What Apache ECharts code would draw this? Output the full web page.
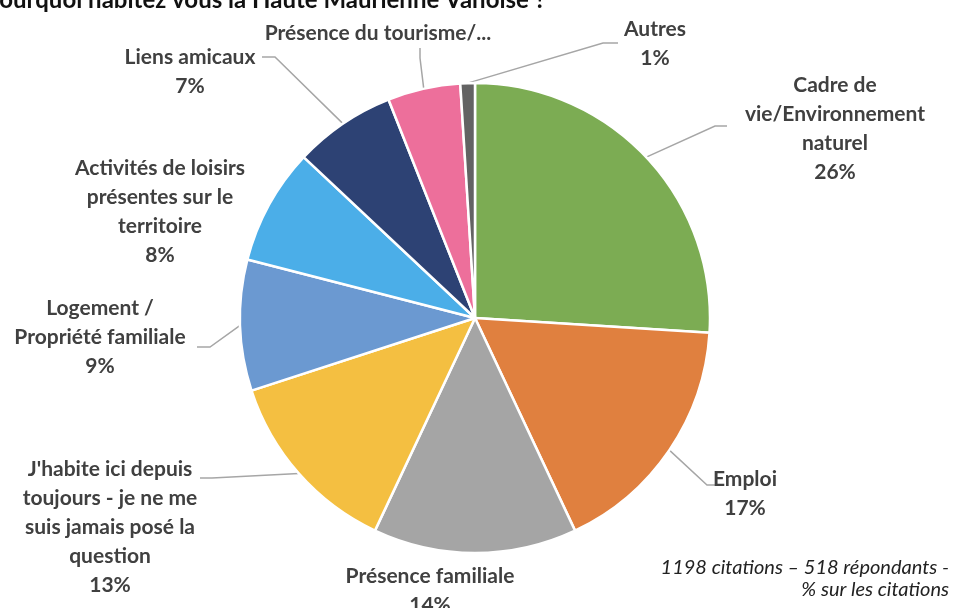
<!DOCTYPE html>
<html>
<head>
    <meta charset="utf-8">
    <title>Pourquoi habitez vous la Haute Maurienne Vanoise ?</title>
    <script src="https://cdn.jsdelivr.net/npm/echarts@6/dist/echarts.min.js"></script>
    <style>
        html, body { margin: 0; padding: 0; background: #fff; }
        #chart { width: 954px; height: 608px; }
    </style>
</head>
<body>
<div id="chart"></div>
<script>
    // données (% des citations)
    var categories = [
        'Cadre de\nvie/Environnement\nnaturel',
        'Emploi',
        'Présence familiale',
        "J'habite ici depuis\ntoujours - je ne me\nsuis jamais posé la\nquestion",
        'Logement /\nPropriété familiale',
        'Activités de loisirs\nprésentes sur le\nterritoire',
        'Liens amicaux',
        'Présence du tourisme/...',
        'Autres'
    ];
    var values = [26, 17, 14, 13, 9, 8, 7, 5, 1];
    var colors = ['#7cac53', '#e0803f', '#a5a5a5', '#f4bf41', '#6b99d1', '#4baee8', '#2d4274', '#ed6f9b', '#636363'];

    var center = [475, 318];
    var radius = 235;

    // position des étiquettes (centre du bloc de texte)
    var labelPos = [
        [835, 129], [745, 494], [430, 591], [110, 527], [100, 337],
        [160, 212], [190, 72], [378, 33], [655, 44]
    ];
    // trait de rappel : point près du texte, point de coude (null = pas de trait)
    var leaderEnds = [
        [[727, 126], [715, 126]],
        [[720, 485], [707, 485]],
        null,
        [[200, 478], [212, 478]],
        [[197, 347], [210, 347]],
        null,
        [[262, 57], [275, 57]],
        [[420, 48], [420, 58]],
        [[618, 43], [603, 43]]
    ];

    var total = values.reduce(function (a, b) { return a + b; }, 0);
    function anchorOf(i) {
        var before = 0;
        for (var k = 0; k < i; k++) before += values[k];
        var mid = (before + values[i] / 2) / total;
        var ang = (90 - mid * 360) * Math.PI / 180;
        return [center[0] + radius * Math.cos(ang), center[1] - radius * Math.sin(ang)];
    }

    var chart = echarts.init(document.getElementById('chart'));

    var data = categories.map(function (name, i) {
        var item = { name: name, value: values[i], itemStyle: { color: colors[i] } };
        if (!leaderEnds[i]) item.labelLine = { show: false };
        if (i === 7) item.label = { formatter: '{b}' };
        return item;
    });

    chart.setOption({
        animation: false,
        graphic: [
            {
                type: 'text',
                x: -15,
                y: -12,
                style: {
                    text: 'Pourquoi habitez vous la Haute Maurienne Vanoise ?',
                    fill: '#111',
                    font: 'bold 24px Lato, sans-serif'
                }
            },
            {
                type: 'text',
                x: 949,
                y: 557,
                style: {
                    text: '1198 citations – 518 répondants -\n% sur les citations',
                    fill: '#222',
                    align: 'right',
                    font: 'italic 20px Lato, sans-serif',
                    lineHeight: 22
                }
            }
        ],
        series: [{
            type: 'pie',
            center: center,
            radius: radius,
            startAngle: 90,
            clockwise: true,
            percentPrecision: 0,
            data: data,
            itemStyle: { borderColor: '#fff', borderWidth: 2.5 },
            label: {
                show: true,
                formatter: '{b}\n{d}%',
                color: '#404040',
                fontFamily: 'Lato',
                fontWeight: 'bold',
                fontSize: 21,
                lineHeight: 29,
                align: 'center'
            },
            labelLine: {
                show: true,
                lineStyle: { color: '#a6a6a6', width: 1.5 }
            },
            labelLayout: function (params) {
                var i = params.dataIndex;
                var p = labelPos[i];
                var out = { x: p[0], y: p[1], align: 'center', verticalAlign: 'middle' };
                if (leaderEnds[i]) {
                    out.labelLinePoints = [anchorOf(i), leaderEnds[i][1], leaderEnds[i][0]];
                }
                return out;
            },
            emphasis: { disabled: true }
        }]
    });
</script>
</body>
</html>
